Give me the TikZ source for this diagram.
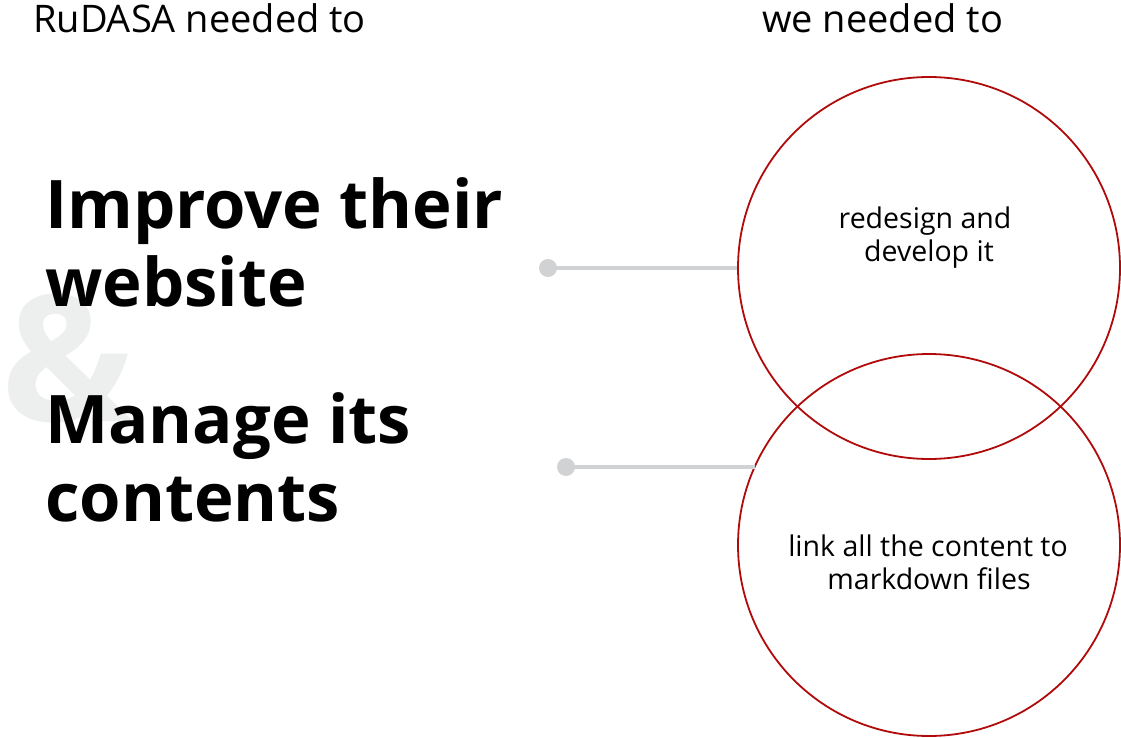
\documentclass[tikz,border=0pt]{standalone}
\usepackage{fontspec}
\setmainfont{Open Sans}
\definecolor{ringred}{HTML}{B00A0A}
\definecolor{linkgray}{HTML}{D1D2D4}
\definecolor{ampgray}{HTML}{EDEEEE}
\begin{document}
\begin{tikzpicture}[x=1pt,y=-1pt,
  ring/.style={circle,draw=ringred,line width=1.8pt,minimum size=382pt,inner sep=0pt},
  headline/.style={anchor=base west,inner sep=0pt,font=\fontsize{67}{78}\selectfont\bfseries},
  label/.style={anchor=base west,inner sep=0pt,font=\fontsize{38}{44}\selectfont},
  ringtext/.style={anchor=base,inner sep=0pt,font=\fontsize{28.5}{33}\selectfont},
  pin/.style={circle,fill=linkgray,inner sep=0pt,minimum size=18pt},
  link/.style={draw=linkgray,line width=4pt}]
\useasboundingbox (0,0) rectangle (1121,738);
% background ampersand
\node[anchor=base west,inner sep=0pt,text=ampgray,font=\fontsize{176}{176}\selectfont\bfseries] (amp) at (1,421) {\&};
% column titles
\node[label] (left title) at (33,33) {RuDASA needed to};
\node[label] (right title) at (762,33) {we needed to};
% goals
\node[headline] (goal1a) at (45,228) {Improve their};
\node[headline] (goal1b) at (45,306) {website};
\node[headline] (goal2a) at (45,443) {Manage its};
\node[headline] (goal2b) at (45,521) {contents};
% answers
\node[ring] (top) at (929,268) {};
\node[ring] (bot) at (929,545) {};
\node[ringtext] (t1) at (925,228) {redesign and};
\node[ringtext] (t2) at (929,261) {develop it};
\node[ringtext] (b1) at (928,556) {link all the content to};
\node[ringtext] (b2) at (929,589) {markdown files};
% connectors
\node[pin] (pin1) at (548,268) {};
\node[pin] (pin2) at (566,467) {};
\coordinate (end2) at (755,467);
\draw[link] (pin1.center) -- (top.west);
\draw[link] (pin2.center) -- (end2);
\end{tikzpicture}
\end{document}
